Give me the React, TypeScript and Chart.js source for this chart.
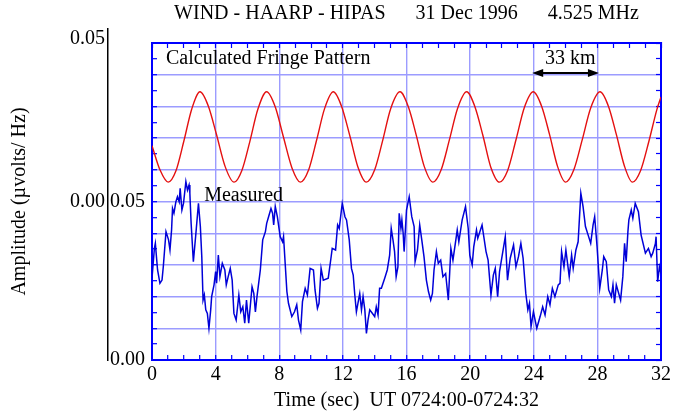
import { useEffect, useRef } from 'react';
import { Chart, registerables } from 'chart.js';

Chart.register(...registerables);

// ---------- text ----------
const TITLE = 'WIND - HAARP - HIPAS      31 Dec 1996      4.525 MHz';
const X_TITLE = 'Time (sec)  UT 0724:00-0724:32';
const Y_TITLE = 'Amplitude (\u00b5volts/ Hz)';

// ---------- axes ----------
const X_MIN = 0;
const X_MAX = 32;
const X_MINOR_STEP = 1;
const X_TICK_LABELS = [0, 4, 8, 12, 16, 20, 24, 28, 32];
const Y_MIN = 0;
const Y_MAX = 0.1;
const Y_MINOR_STEP = 0.005;
const Y_GRID_STEP = 0.01;
const Y_TICK_LABELS = [0, 0.05];
const OUTER_TICKS = [0, 0.05];
const OUTER_MIN = -0.0486;
const OUTER_MAX = 0.0529;

// ---------- calculated fringe pattern ----------
const FRINGE_T = [
  0, 0.5, 1.02, 1.5, 2.0, 2.5, 3.02, 3.55, 4.05, 4.6,
  5.16, 5.65, 6.15, 6.65, 7.21, 7.75, 8.25, 8.8, 9.33, 9.85,
  10.35, 10.85, 11.4, 11.92, 12.45, 12.95, 13.47, 14.0, 14.5, 15.0,
  15.59, 16.12, 16.62, 17.12, 17.66, 18.18, 18.7, 19.2, 19.78, 20.3,
  20.8, 21.3, 21.84, 22.36, 22.88, 23.4, 23.97, 24.5, 25.0, 25.5,
  26.0, 26.52, 27.05, 27.58, 28.17, 28.7, 29.2, 29.7, 30.2, 30.72,
  31.24, 31.74, 32.0,
];
const FRINGE_V = [
  0.0676, 0.0600, 0.0561, 0.0596, 0.0690, 0.0792, 0.0846, 0.0800, 0.0712, 0.0610,
  0.0561, 0.0598, 0.0689, 0.0790, 0.0846, 0.0798, 0.0706, 0.0606, 0.0561, 0.0600,
  0.0694, 0.0793, 0.0846, 0.0800, 0.0705, 0.0608, 0.0561, 0.0600, 0.0692, 0.0792,
  0.0846, 0.0798, 0.0708, 0.0610, 0.0561, 0.0600, 0.0695, 0.0792, 0.0846, 0.0799,
  0.0709, 0.0608, 0.0561, 0.0598, 0.0694, 0.0795, 0.0846, 0.0800, 0.0710, 0.0610,
  0.0561, 0.0600, 0.0695, 0.0795, 0.0846, 0.0800, 0.0710, 0.0612, 0.0561, 0.0598,
  0.0690, 0.0790, 0.0830,
];

// ---------- measured ----------
const MEAS_T = [
  0.00, 0.15, 0.21, 0.35, 0.50, 0.63, 0.71, 0.88, 1.04, 1.13,
  1.23, 1.29, 1.38, 1.50, 1.60, 1.71, 1.77, 1.88, 1.98, 2.13,
  2.23, 2.33, 2.38, 2.46, 2.60, 2.75, 2.92, 3.04, 3.13, 3.21,
  3.29, 3.38, 3.48, 3.58, 3.69, 3.75, 3.90, 4.00, 4.06, 4.17,
  4.27, 4.42, 4.58, 4.67, 4.79, 4.92, 5.04, 5.15, 5.29, 5.46,
  5.58, 5.71, 5.83, 5.94, 6.08, 6.29, 6.40, 6.50, 6.60, 6.81,
  6.96, 7.13, 7.21, 7.33, 7.48, 7.58, 7.65, 7.75, 7.88, 8.06,
  8.21, 8.27, 8.48, 8.58, 8.79, 8.96, 9.10, 9.21, 9.35, 9.46,
  9.63, 9.77, 9.94, 10.15, 10.25, 10.40, 10.50, 10.63, 10.77, 11.08,
  11.25, 11.33, 11.54, 11.67, 11.77, 11.96, 12.13, 12.23, 12.40, 12.54,
  12.65, 12.75, 12.85, 13.06, 13.17, 13.27, 13.38, 13.48, 13.58, 13.69,
  14.00, 14.10, 14.21, 14.31, 14.42, 14.63, 14.79, 14.94, 15.04, 15.15,
  15.25, 15.35, 15.46, 15.54, 15.65, 15.71, 15.79, 15.85, 16.00, 16.17,
  16.33, 16.48, 16.54, 16.69, 16.83, 16.96, 17.10, 17.25, 17.38, 17.52,
  17.63, 17.73, 17.88, 18.00, 18.15, 18.29, 18.46, 18.63, 18.79, 18.92,
  19.19, 19.29, 19.50, 19.71, 19.88, 19.98, 20.13, 20.23, 20.40, 20.48,
  20.75, 21.00, 21.13, 21.31, 21.46, 21.58, 21.73, 21.85, 22.21, 22.35,
  22.52, 22.73, 22.88, 23.04, 23.19, 23.33, 23.50, 23.63, 23.73, 23.83,
  23.98, 24.19, 24.40, 24.56, 24.71, 24.88, 25.02, 25.17, 25.33, 25.54,
  25.65, 25.75, 25.90, 26.02, 26.23, 26.38, 26.48, 26.65, 26.79, 26.96,
  27.10, 27.25, 27.42, 27.58, 27.73, 27.83, 27.98, 28.15, 28.31, 28.40,
  28.56, 28.71, 28.88, 28.98, 29.08, 29.19, 29.46, 29.60, 29.71, 29.81,
  29.92, 29.98, 30.13, 30.23, 30.38, 30.58, 30.75, 31.02, 31.21, 31.38,
  31.48, 31.65, 31.69, 31.79, 31.90, 32.00,
];
const MEAS_V = [
  0.0258, 0.0352, 0.0368, 0.0284, 0.0242, 0.0252, 0.0294, 0.0405, 0.0379, 0.0347,
  0.0410, 0.0478, 0.0463, 0.0499, 0.0515, 0.0499, 0.0542, 0.0473, 0.0494, 0.0563,
  0.0536, 0.0552, 0.0526, 0.0431, 0.0310, 0.0394, 0.0494, 0.0421, 0.0326, 0.0189,
  0.0205, 0.0158, 0.0147, 0.0100, 0.0158, 0.0200, 0.0237, 0.0279, 0.0242, 0.0331,
  0.0263, 0.0305, 0.0284, 0.0237, 0.0263, 0.0289, 0.0252, 0.0147, 0.0126, 0.0205,
  0.0152, 0.0168, 0.0116, 0.0189, 0.0116, 0.0231, 0.0210, 0.0152, 0.0200, 0.0284,
  0.0379, 0.0405, 0.0431, 0.0452, 0.0478, 0.0463, 0.0426, 0.0484, 0.0452, 0.0389,
  0.0373, 0.0389, 0.0216, 0.0179, 0.0137, 0.0152, 0.0174, 0.0126, 0.0095, 0.0184,
  0.0226, 0.0205, 0.0289, 0.0284, 0.0221, 0.0163, 0.0179, 0.0289, 0.0252, 0.0258,
  0.0321, 0.0352, 0.0347, 0.0426, 0.0415, 0.0494, 0.0452, 0.0442, 0.0379, 0.0289,
  0.0268, 0.0205, 0.0152, 0.0210, 0.0158, 0.0200, 0.0158, 0.0084, 0.0126, 0.0158,
  0.0137, 0.0168, 0.0142, 0.0226, 0.0226, 0.0258, 0.0284, 0.0331, 0.0415, 0.0379,
  0.0342, 0.0263, 0.0294, 0.0463, 0.0415, 0.0442, 0.0400, 0.0342, 0.0473, 0.0515,
  0.0452, 0.0421, 0.0310, 0.0347, 0.0426, 0.0379, 0.0326, 0.0252, 0.0216, 0.0189,
  0.0210, 0.0284, 0.0342, 0.0305, 0.0315, 0.0263, 0.0273, 0.0189, 0.0352, 0.0315,
  0.0410, 0.0373, 0.0442, 0.0484, 0.0415, 0.0331, 0.0300, 0.0358, 0.0410, 0.0384,
  0.0426, 0.0342, 0.0315, 0.0205, 0.0268, 0.0289, 0.0200, 0.0279, 0.0389, 0.0252,
  0.0321, 0.0363, 0.0294, 0.0326, 0.0368, 0.0321, 0.0210, 0.0158, 0.0179, 0.0105,
  0.0152, 0.0100, 0.0137, 0.0168, 0.0142, 0.0200, 0.0174, 0.0226, 0.0200, 0.0237,
  0.0242, 0.0342, 0.0294, 0.0347, 0.0263, 0.0331, 0.0289, 0.0347, 0.0373, 0.0526,
  0.0484, 0.0421, 0.0394, 0.0368, 0.0426, 0.0452, 0.0358, 0.0226, 0.0284, 0.0326,
  0.0310, 0.0221, 0.0200, 0.0237, 0.0179, 0.0237, 0.0189, 0.0263, 0.0368, 0.0310,
  0.0405, 0.0442, 0.0473, 0.0447, 0.0494, 0.0468, 0.0394, 0.0337, 0.0352, 0.0326,
  0.0337, 0.0368, 0.0389, 0.0247, 0.0294, 0.0273,
];

// ---------- annotations (data units) ----------
const NOTE_TEXTS = ['Calculated Fringe Pattern', 'Measured', '33 km'];
const NOTE_X = [0.88, 3.28, 24.7];
const NOTE_Y = [0.0933, 0.0501, 0.0933];
const ARROW_X = [23.9, 28.1];
const ARROW_Y = 0.0905;

// ---------- styles ----------
const FONT = "'Liberation Serif', 'Times New Roman', Times, serif";
const BLUE = '#0000ff';
const GRID = '#9c9cff';
const RED = '#e41010';
const LINE_BLUE = '#0000d8';
const OUTER_AXIS_TOP = 29;

const near = (a: number, b: number) => Math.abs(a - b) < 1e-7;
const onStep = (v: number, step: number) => Math.abs(v / step - Math.round(v / step)) < 1e-6;

const noPad = (s: any) => {
  s.paddingLeft = 0;
  s.paddingRight = 0;
  s.paddingTop = 0;
  s.paddingBottom = 0;
};

const outerAxisPlugin = {
  id: 'outerAxis',
  afterLayout(chart: any) {
    const s = chart.scales.y2;
    if (!s) return;
    s.top = OUTER_AXIS_TOP;
    s.height = s.bottom - s.top;
    s.configure();
  },
};

const notesPlugin = {
  id: 'notes',
  afterDatasetsDraw(chart: any) {
    const { ctx, scales } = chart;
    const xs = scales.x;
    const ys = scales.y;
    ctx.save();
    ctx.font = `20px ${FONT}`;
    ctx.fillStyle = '#000';
    ctx.textAlign = 'left';
    ctx.textBaseline = 'alphabetic';
    NOTE_TEXTS.forEach((t, i) => {
      ctx.fillText(t, xs.getPixelForValue(NOTE_X[i]), ys.getPixelForValue(NOTE_Y[i]));
    });
    const x1 = xs.getPixelForValue(ARROW_X[0]);
    const x2 = xs.getPixelForValue(ARROW_X[1]);
    const ay = ys.getPixelForValue(ARROW_Y);
    const hl = 11;
    const hw = 4;
    ctx.strokeStyle = '#000';
    ctx.lineWidth = 2;
    ctx.beginPath();
    ctx.moveTo(x1 + hl - 2, ay);
    ctx.lineTo(x2 - hl + 2, ay);
    ctx.stroke();
    ctx.beginPath();
    ctx.moveTo(x1, ay);
    ctx.lineTo(x1 + hl, ay - hw);
    ctx.lineTo(x1 + hl, ay + hw);
    ctx.closePath();
    ctx.fill();
    ctx.beginPath();
    ctx.moveTo(x2, ay);
    ctx.lineTo(x2 - hl, ay - hw);
    ctx.lineTo(x2 - hl, ay + hw);
    ctx.closePath();
    ctx.fill();
    ctx.restore();
  },
};

export default function App() {
  const canvasRef = useRef<HTMLCanvasElement | null>(null);

  useEffect(() => {
    const canvas = canvasRef.current;
    if (!canvas) return;
    Chart.defaults.font.family = FONT;
    Chart.defaults.font.size = 20;
    Chart.defaults.color = '#000';

    const fringe = FRINGE_T.map((t, i) => ({ x: t, y: FRINGE_V[i] }));
    const measured = MEAS_T.map((t, i) => ({ x: t, y: MEAS_V[i] }));

    const chart = new Chart(canvas, {
      type: 'line',
      data: {
        datasets: [
          {
            label: 'Calculated Fringe Pattern',
            data: fringe,
            borderColor: RED,
            borderWidth: 1.4,
            pointRadius: 0,
            cubicInterpolationMode: 'monotone',
            xAxisID: 'x',
            yAxisID: 'y',
          },
          {
            label: 'Measured',
            data: measured,
            borderColor: LINE_BLUE,
            borderWidth: 1.5,
            pointRadius: 0,
            tension: 0,
            xAxisID: 'x',
            yAxisID: 'y',
          },
        ],
      },
      options: {
        responsive: false,
        animation: false,
        events: [],
        layout: { padding: 0 },
        plugins: {
          legend: { display: false },
          tooltip: { enabled: false },
          title: { display: false },
        },
        scales: {
          x: {
            type: 'linear',
            position: 'bottom',
            min: X_MIN,
            max: X_MAX,
            ticks: {
              stepSize: X_MINOR_STEP,
              autoSkip: false,
              maxRotation: 0,
              minRotation: 0,
              padding: 8,
              font: { size: 20, lineHeight: 1.2 },
              callback: (v: any) => (X_TICK_LABELS.some((l) => near(l, Number(v))) ? String(v) : ''),
            },
            grid: {
              color: (c: any) => {
                const v = c.tick ? c.tick.value : NaN;
                return X_TICK_LABELS.some((l) => near(l, v)) && !near(v, X_MIN) && !near(v, X_MAX) ? GRID : 'transparent';
              },
              lineWidth: 1.4,
              drawTicks: true,
              tickLength: -5,
              tickColor: BLUE,
              tickWidth: 1.2,
            },
            border: { color: BLUE, width: 2 },
            title: {
              display: true,
              text: X_TITLE,
              font: { size: 20, lineHeight: 1 },
              padding: { top: 0, bottom: 1 },
            },
            afterFit: (s: any) => {
              s.height = 52;
              noPad(s);
            },
          },
          xT: {
            type: 'linear',
            position: 'top',
            min: X_MIN,
            max: X_MAX,
            ticks: { stepSize: X_MINOR_STEP, autoSkip: false, display: false },
            grid: {
              drawOnChartArea: false,
              drawTicks: true,
              tickLength: -5,
              tickColor: BLUE,
              tickWidth: 1.2,
              color: 'transparent',
            },
            border: { color: BLUE, width: 2 },
            title: {
              display: true,
              text: TITLE,
              font: { size: 20, lineHeight: 1.2 },
              padding: { top: 2, bottom: 0 },
            },
            afterFit: (s: any) => {
              s.height = 43;
              noPad(s);
            },
          },
          y: {
            type: 'linear',
            position: 'left',
            weight: 0,
            min: Y_MIN,
            max: Y_MAX,
            ticks: {
              stepSize: Y_MINOR_STEP,
              autoSkip: false,
              padding: 12,
              font: { size: 20, lineHeight: 1.2 },
              callback: (v: any) => (Y_TICK_LABELS.some((l) => near(l, Number(v))) ? Number(v).toFixed(2) : ''),
            },
            grid: {
              color: (c: any) => {
                const v = c.tick ? c.tick.value : NaN;
                return onStep(v, Y_GRID_STEP) && !near(v, Y_MIN) && !near(v, Y_MAX) ? GRID : 'transparent';
              },
              lineWidth: 1.4,
              drawTicks: true,
              tickLength: -5,
              tickColor: BLUE,
              tickWidth: 1.2,
            },
            border: { color: BLUE, width: 2 },
            afterFit: (s: any) => {
              s.width = 44;
              noPad(s);
            },
          },
          y2: {
            type: 'linear',
            position: 'left',
            weight: 1,
            min: OUTER_MIN,
            max: OUTER_MAX,
            afterBuildTicks: (s: any) => {
              s.ticks = OUTER_TICKS.map((v) => ({ value: v }));
            },
            ticks: {
              autoSkip: false,
              padding: 3,
              font: { size: 20, lineHeight: 1.2 },
              callback: (v: any) => Number(v).toFixed(2),
            },
            grid: { display: true, drawOnChartArea: false, drawTicks: false, color: 'transparent' },
            border: { color: '#000', width: 1.5 },
            afterFit: (s: any) => {
              s.width = 74;
              noPad(s);
            },
          },
          yT: {
            type: 'linear',
            position: 'left',
            weight: 2,
            min: 0,
            max: 1,
            ticks: { display: false },
            grid: { display: false },
            border: { display: false },
            title: {
              display: true,
              text: Y_TITLE,
              font: { size: 20, lineHeight: 1.2 },
              padding: { top: 8, bottom: 0 },
            },
            afterFit: (s: any) => {
              s.width = 34;
              noPad(s);
            },
          },
          yR: {
            type: 'linear',
            position: 'right',
            min: Y_MIN,
            max: Y_MAX,
            ticks: { stepSize: Y_MINOR_STEP, autoSkip: false, display: false },
            grid: {
              drawOnChartArea: false,
              drawTicks: true,
              tickLength: -5,
              tickColor: BLUE,
              tickWidth: 1.2,
              color: 'transparent',
            },
            border: { color: BLUE, width: 2 },
            afterFit: (s: any) => {
              s.width = 12;
              noPad(s);
            },
          },
        },
      } as any,
      plugins: [outerAxisPlugin, notesPlugin],
    });

    return () => {
      chart.destroy();
    };
  }, []);

  return (
    <div style={{ position: 'absolute', left: 0, top: 0, width: 673, height: 412, background: '#fff' }}>
      <canvas ref={canvasRef} width={673} height={412} style={{ display: 'block', width: 673, height: 412 }} />
    </div>
  );
}
